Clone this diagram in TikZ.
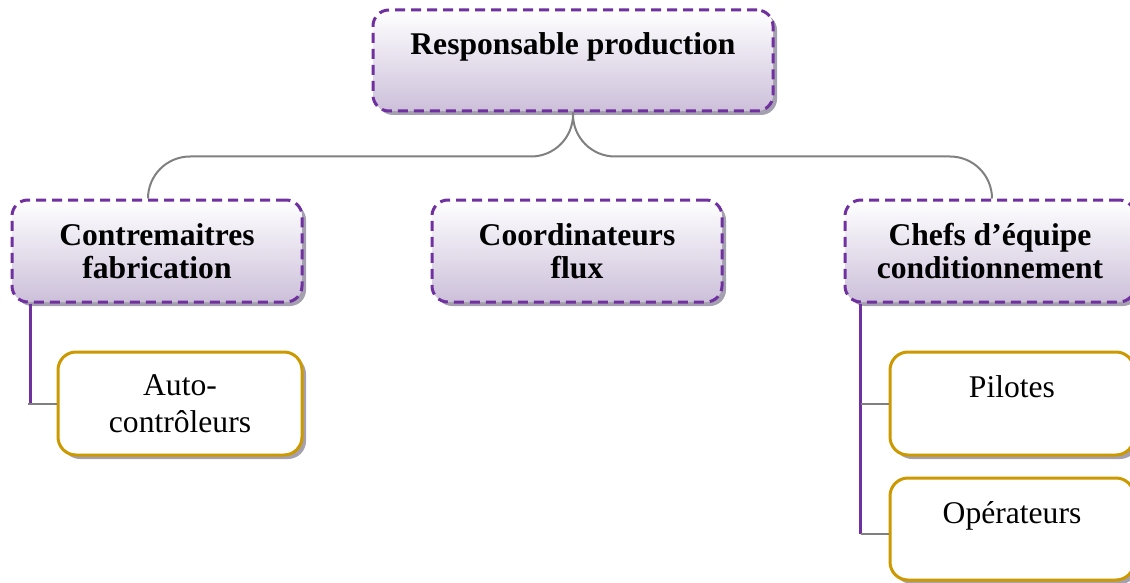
\documentclass[tikz,border=0pt]{standalone}
\usepackage{fontspec}
\setmainfont{Liberation Serif}
\usetikzlibrary{shadows,calc}
\definecolor{violetline}{RGB}{112,48,160}
\definecolor{lilac}{RGB}{204,192,218}
\definecolor{gold}{RGB}{204,153,0}
\definecolor{linkgray}{RGB}{128,128,128}
\definecolor{shadowgray}{RGB}{165,160,175}

\begin{document}
\begin{tikzpicture}[x=1pt,y=-1pt]
\tikzstyle{shade} = [drop shadow={shadow xshift=4pt,shadow yshift=-4pt,fill=shadowgray,opacity=1}]
\tikzstyle{head} = [draw=violetline, line width=3pt, dash pattern=on 10pt off 6pt, rounded corners=16pt, top color=white, bottom color=lilac, shade, align=center, inner sep=0pt, font=\fontsize{31.6}{33}\selectfont\bfseries]
\tikzstyle{leaf} = [draw=gold, line width=3pt, rounded corners=18pt, fill=white, shade, align=center, inner sep=0pt, minimum width=244pt, minimum height=103pt, font=\fontsize{31.6}{37}\selectfont]
\tikzstyle{toptext} = [text height=22pt, text depth=34pt]
\tikzstyle{link} = [draw=linkgray, line width=2pt]
\tikzstyle{trunk} = [draw=violetline, line width=2.2pt]
\useasboundingbox (0,0) rectangle (1130,583);

    % the boxes
    \node [head, toptext, text depth=33pt, minimum width=400pt, minimum height=101pt] (resp) at (573,60.5) {Responsable production};
    \node [head, minimum width=290pt, minimum height=102pt] (contre) at (157,251) {Contremaitres\\fabrication};
    \node [head, minimum width=290pt, minimum height=102pt] (coord) at (577,251) {Coordinateurs\\flux};
    \node [head, minimum width=290pt, minimum height=102pt] (chefs) at (990,251) {Chefs d’équipe\\conditionnement};

    \node [leaf] (auto) at (180,403.5) {Auto-\\contrôleurs};
    \node [leaf, toptext] (pilotes) at (1012,403.5) {Pilotes};
    \node [leaf, toptext, minimum height=102pt] (oper) at (1012,529) {Opérateurs};

    % connectors
    \draw [link, rounded corners=42pt] (resp.south) -- ++(0,44) -| ([xshift=-9pt]contre.north);
    \draw [link, rounded corners=42pt] (resp.south) -- ++(0,44) -| ([xshift=2pt]chefs.north);

    \coordinate (lbar) at ($(contre.south west)+(20,0)$);
    \coordinate (lauto) at (lbar |- auto.west);
    \draw [trunk] (lbar) -- (lauto);
    \draw [link] ([xshift=-3pt]lauto) -- (auto.west);

    \coordinate (rbar) at ($(chefs.south west)+(17,0)$);
    \coordinate (rpil) at (rbar |- pilotes.west);
    \coordinate (roper) at ($(rbar |- oper.west)+(0,4.5)$);
    \draw [trunk] (rbar) -- (roper);
    \draw [link] (rpil) -- (pilotes.west);
    \draw [link] (roper) -- (roper -| oper.west);

\end{tikzpicture}
\end{document}
